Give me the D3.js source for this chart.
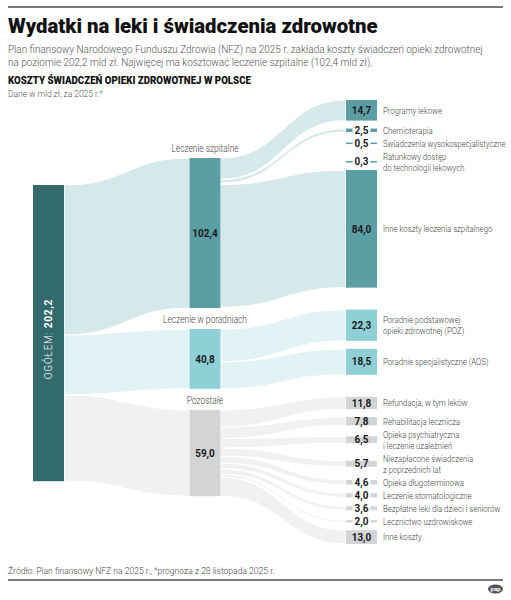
<!DOCTYPE html>
<html>
<head>
<meta charset="utf-8">
<script src="https://cdn.jsdelivr.net/npm/d3@7"></script>
<style>
  body { margin: 0; background: #fff; }
  svg { display: block; }
  text { font-family: "Roboto", "Noto Sans", sans-serif; }
</style>
</head>
<body>
<svg id="chart"></svg>
<script>
// --- data (mld zł, 2025) ---
var totalLabel = "OGÓŁEM:";
var totalValue = 202.2;

var groupNames = ["Leczenie szpitalne", "Leczenie w poradniach", "Pozostałe"];
var groupValues = [102.4, 40.8, 59.0];

var itemNames = [
  "Programy lekowe",
  "Chemioterapia",
  "Świadczenia wysokospecjalistyczne",
  "Ratunkowy dostęp\ndo technologii lekowych",
  "Inne koszty leczenia szpitalnego",
  "Poradnie podstawowej\nopieki zdrowotnej (POZ)",
  "Poradnie specjalistyczne (AOS)",
  "Refundacja, w tym leków",
  "Rehabilitacja lecznicza",
  "Opieka psychiatryczna\ni leczenie uzależnień",
  "Niezapłacone świadczenia\nz poprzednich lat",
  "Opieka długoterminowa",
  "Leczenie stomatologiczne",
  "Bezpłatne leki dla dzieci i seniorów",
  "Lecznictwo uzdrowiskowe",
  "Inne koszty"
];
var itemValues = [14.7, 2.5, 0.5, 0.3, 84.0, 22.3, 18.5, 11.8, 7.8, 6.5, 5.7, 4.6, 4.0, 3.6, 2.0, 13.0];
var itemGroup = [0, 0, 0, 0, 0, 1, 1, 2, 2, 2, 2, 2, 2, 2, 2, 2];

// --- styles ---
var nodeColors = ["#5b9fa4", "#8fd0d7", "#d3d4d6"];
var linkColors = ["#d5e8ea", "#e2f3f5", "#f1f1f1"];
var totalColor = "#336a6c";

var width = 511,
  height = 600;

var svg = d3.select("#chart").attr("width", width).attr("height", height);

var fmt = function(v) {
  return d3.format(".1f")(v).replace(".", ",");
};

// squeeze text horizontally around its anchor (the original uses a narrow font)
function condense(sel, f) {
  sel.each(function() {
    var t = d3.select(this);
    var tx = +t.attr("x") || 0,
      ty = +t.attr("y") || 0;
    var pre = t.attr("transform") || "";
    if (pre) t.attr("transform", pre + " scale(" + f + ",1)");
    else t.attr("transform", "translate(" + tx + "," + ty + ") scale(" + f + ",1) translate(" + -tx + "," + -ty + ")");
  });
}
function fitTo(sel, target) {
  return target / sel.node().getComputedTextLength();
}

// --- header ---
svg.append("line")
  .attr("x1", 8).attr("x2", 503).attr("y1", 7).attr("y2", 7)
  .attr("stroke", "#7a7a7a").attr("stroke-width", 2);

var title = svg.append("text")
  .attr("x", 8).attr("y", 33)
  .attr("font-size", 20).attr("font-weight", 900).attr("fill", "#111")
  .text("Wydatki na leki i świadczenia zdrowotne");
condense(title, fitTo(title, 370));

var subtitle = [
  "Plan finansowy Narodowego Funduszu Zdrowia (NFZ) na 2025 r. zakłada koszty świadczeń opieki zdrowotnej",
  "na poziomie 202,2 mld zł. Najwięcej ma kosztować leczenie szpitalne (102,4 mld zł)."
];
var sub = svg.selectAll(".sub")
  .data(subtitle)
  .enter()
  .append("text")
  .attr("class", "sub")
  .attr("x", 8)
  .attr("y", (d, i) => 53 + i * 13.5)
  .attr("font-size", 11).attr("font-weight", 300).attr("fill", "#555")
  .text(d => d);
condense(sub, fitTo(sub, 475));

var heading = svg.append("text")
  .attr("x", 8).attr("y", 84)
  .attr("font-size", 10.5).attr("font-weight", 900).attr("fill", "#111")
  .text("KOSZTY ŚWIADCZEŃ OPIEKI ZDROWOTNEJ W POLSCE");
condense(heading, fitTo(heading, 243));

var dane = svg.append("text")
  .attr("x", 8).attr("y", 97)
  .attr("font-size", 9).attr("font-weight", 300).attr("fill", "#555")
  .text("Dane w mld zł, za 2025 r.*");
condense(dane, fitTo(dane, 95));

// --- layout ---
var nodeW = 31;
var x = d3.scalePoint().domain(["total", "group", "item"]).range([33, 346]);

var k = 1.465; // px per mld zł for total and group columns
var y = d3.scaleLinear().domain([0, totalValue]).range([0, totalValue * k]);
// item column is drawn a bit tighter, "Pozostałe" tighter still
var yItem = [
  d3.scaleLinear().domain([0, 1]).range([0, 1.4]),
  d3.scaleLinear().domain([0, 1]).range([0, 1.4]),
  d3.scaleLinear().domain([0, 1]).range([0, 1.05])
];

var leftTop = 185,
  midTop = 158,
  midGap = 21,
  rightTop = 100,
  groupGap = 22,
  boxGap = 8,
  labelGap = 2,
  lineH = 11,
  boxMin = 5.5,
  squeeze = 0.84;

var total = { y0: leftTop, y1: leftTop + y(totalValue) };

var groups = groupNames.map(function(name, i) {
  return { name: name, value: groupValues[i], index: i };
});
var cur = midTop;
groups.forEach(function(g) {
  g.y0 = cur;
  g.y1 = cur + y(g.value);
  cur = g.y1 + midGap;
});

var items = itemNames.map(function(name, i) {
  return { lines: name.split("\n"), value: itemValues[i], group: itemGroup[i] };
});
var prevBox = null,
  prevLab = null,
  prevGroup = null;
items.forEach(function(d) {
  d.h = yItem[d.group](d.value);
  var lab = d.lines.length * lineH;
  var c;
  if (prevGroup === null) c = rightTop + d.h / 2;
  else if (d.group !== prevGroup) c = prevBox + groupGap + d.h / 2;
  else c = Math.max(prevBox + boxGap + d.h / 2, prevLab + labelGap + lab / 2);
  d.cy = c;
  d.y0 = c - d.h / 2;
  d.y1 = c + d.h / 2;
  prevBox = d.y1;
  prevLab = c + lab / 2;
  prevGroup = d.group;
});

function ribbon(x0, s0, s1, x1, t0, t1) {
  var xm = (x0 + x1) / 2;
  var p = d3.path();
  p.moveTo(x0, s0);
  p.bezierCurveTo(xm, s0, xm, t0, x1, t0);
  p.lineTo(x1, t1);
  p.bezierCurveTo(xm, t1, xm, s1, x0, s1);
  p.closePath();
  return p.toString();
}

// links total -> groups
var off = total.y0;
var leftLinks = groups.map(function(g) {
  var l = { s0: off, s1: off + y(g.value), t0: g.y0, t1: g.y1, group: g.index };
  off = l.s1;
  return l;
});

// links groups -> items
var offs = groups.map(g => g.y0);
var rightLinks = items.map(function(d) {
  var s0 = offs[d.group];
  offs[d.group] += y(d.value);
  return { s0: s0, s1: offs[d.group], t0: d.y0, t1: d.y1, group: d.group };
});

var links = svg.append("g");
links.selectAll(".left-link")
  .data(leftLinks)
  .enter()
  .append("path")
  .attr("d", d => ribbon(x("total") + nodeW, d.s0, d.s1, x("group"), d.t0, d.t1))
  .attr("fill", d => linkColors[d.group])
  .attr("stroke", "#fff")
  .attr("stroke-width", 1.2);

links.selectAll(".right-link")
  .data(rightLinks)
  .enter()
  .append("path")
  .attr("d", d => ribbon(x("group") + nodeW, d.s0, d.s1, x("item"), d.t0, d.t1))
  .attr("fill", d => linkColors[d.group])
  .attr("stroke", "#fff")
  .attr("stroke-width", 1.2);

// --- nodes ---
svg.append("rect")
  .attr("x", x("total")).attr("y", total.y0)
  .attr("width", nodeW).attr("height", total.y1 - total.y0)
  .attr("fill", totalColor);

var totalText = svg.append("text")
  .attr("transform", "translate(" + (x("total") + nodeW / 2) + "," + ((total.y0 + total.y1) / 2 + 6) + ") rotate(-90)")
  .attr("text-anchor", "middle")
  .attr("dy", "0.35em")
  .attr("font-size", 11)
  .attr("letter-spacing", 0.8)
  .attr("fill", "#fff");
totalText.append("tspan").attr("font-weight", 300).text(totalLabel + " ");
totalText.append("tspan").attr("font-weight", "bold").text(fmt(totalValue));
condense(totalText, 0.92);

var gNodes = svg.selectAll(".group-node")
  .data(groups)
  .enter()
  .append("g");
gNodes.append("rect")
  .attr("x", x("group")).attr("y", d => d.y0)
  .attr("width", nodeW).attr("height", d => d.y1 - d.y0)
  .attr("fill", d => nodeColors[d.index]);
condense(gNodes.append("text")
  .attr("x", x("group") + nodeW / 2).attr("y", d => d.y0 - 6)
  .attr("text-anchor", "middle")
  .attr("font-size", 10).attr("font-weight", 300).attr("fill", "#444")
  .text(d => d.name), squeeze);
condense(gNodes.append("text")
  .attr("x", x("group") + nodeW / 2).attr("y", d => (d.y0 + d.y1) / 2)
  .attr("dy", "0.35em")
  .attr("text-anchor", "middle")
  .attr("font-size", 10.5).attr("font-weight", "bold").attr("fill", "#1a1a1a")
  .text(d => fmt(d.value)), 0.95);

var iNodes = svg.selectAll(".item-node")
  .data(items)
  .enter()
  .append("g");
iNodes.append("rect")
  .attr("x", x("item"))
  .attr("y", d => d.cy - Math.max(d.h, 1.5) / 2)
  .attr("width", nodeW)
  .attr("height", d => Math.max(d.h, 1.5))
  .attr("fill", d => nodeColors[d.group]);

// thin nodes get a white patch behind the number
iNodes.filter(d => d.h < boxMin)
  .append("rect")
  .attr("class", "patch")
  .attr("fill", "#fff");

var vals = iNodes.append("text")
  .attr("class", "val")
  .attr("x", x("item") + nodeW / 2).attr("y", d => d.cy)
  .attr("dy", "0.35em")
  .attr("text-anchor", "middle")
  .attr("font-size", 10.5).attr("font-weight", "bold").attr("fill", "#1a1a1a")
  .text(d => fmt(d.value));

iNodes.each(function(d) {
  var g = d3.select(this);
  var patch = g.select(".patch");
  if (patch.empty()) return;
  var w = g.select(".val").node().getComputedTextLength() * 0.95 + 4;
  patch.attr("x", x("item") + nodeW / 2 - w / 2).attr("y", d.cy - 5).attr("width", w).attr("height", 10);
});
condense(vals, 0.95);

var labs = iNodes.selectAll(".lab")
  .data(d => d.lines.map((line, i) => ({ line: line, i: i, n: d.lines.length, cy: d.cy })))
  .enter()
  .append("text")
  .attr("class", "lab")
  .attr("x", x("item") + nodeW + 6)
  .attr("y", d => d.cy + (d.i - (d.n - 1) / 2) * lineH)
  .attr("dy", "0.35em")
  .attr("font-size", 9.5).attr("font-weight", 300).attr("fill", "#444")
  .text(d => d.line);
condense(labs, 0.82);

// --- footer ---
var source = svg.append("text")
  .attr("x", 8).attr("y", 574)
  .attr("font-size", 9.5).attr("font-weight", 300).attr("fill", "#444")
  .text("Źródło: Plan finansowy NFZ na 2025 r., *prognoza z 28 listopada 2025 r.");
condense(source, fitTo(source, 267));

svg.append("line")
  .attr("x1", 8).attr("x2", 503).attr("y1", 580).attr("y2", 580)
  .attr("stroke", "#7a7a7a").attr("stroke-width", 2);

svg.append("ellipse")
  .attr("cx", 495.5).attr("cy", 589).attr("rx", 7.5).attr("ry", 4.5)
  .attr("fill", "#555");
svg.append("text")
  .attr("x", 495.5).attr("y", 589).attr("dy", "0.35em")
  .attr("text-anchor", "middle")
  .attr("font-size", 6).attr("font-weight", "bold").attr("fill", "#fff")
  .text("pap");
</script>
</body>
</html>
